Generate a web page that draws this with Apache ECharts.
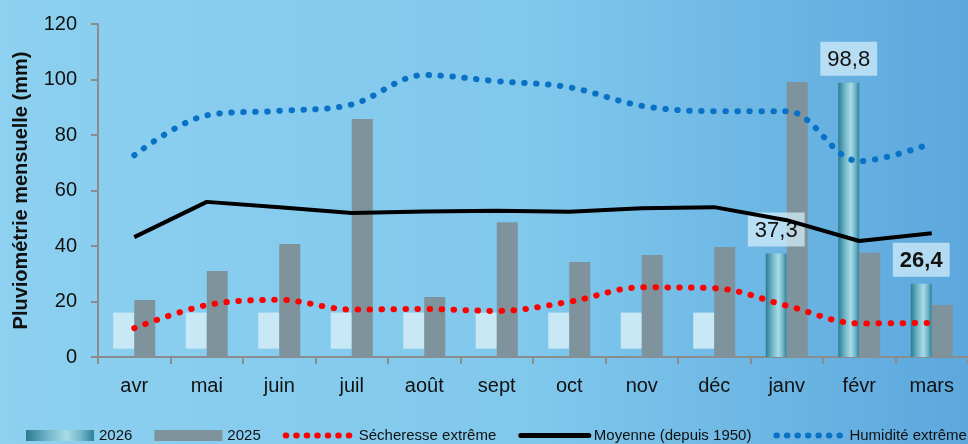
<!DOCTYPE html>
<html>
<head>
<meta charset="utf-8">
<script src="https://cdn.jsdelivr.net/npm/echarts@6/dist/echarts.min.js"></script>
<style>
  html, body { margin: 0; padding: 0; }
  #chart { width: 968px; height: 444px; }
</style>
</head>
<body>
<div id="chart"></div>
<script>
// mois (avril -> mars)
var months = ['avr', 'mai', 'juin', 'juil', 'août', 'sept', 'oct', 'nov', 'déc', 'janv', 'févr', 'mars'];
var yTicks = [0, 20, 40, 60, 80, 100, 120];

var pluie2026 = [null, null, null, null, null, null, null, null, null, 37.3, 98.8, 26.4];
var pluie2025 = [20.5, 31, 40.7, 85.8, 21.6, 48.6, 34.2, 36.8, 39.6, 99.1, 37.6, 18.7];
var moyenne = [43.2, 55.9, 54, 51.9, 52.4, 52.7, 52.3, 53.6, 54, 49.3, 41.8, 44.6];
var secheresse = [10.4, 18.7, 20.6, 17.1, 17.3, 16.6, 19.9, 25.1, 24.8, 18.5, 12.1, 12.3];
var humidite = [72.7, 87.1, 88.7, 91, 101.6, 99.4, 97.2, 90.5, 88.6, 88.6, 70.6, 77];
// cases vides des mois 2026 pas encore passés
var videBas = [3, 3, 3, 3, 3, 3, 3, 3, 3, null, null, null];
var videHaut = [16, 16, 16, 16, 16, 16, 16, 16, 16, null, null, null];
var labelGras = [false, false, false, false, false, false, false, false, false, false, false, true];

var FONT = '"Liberation Sans", Arial, sans-serif';

var chart = echarts.init(document.getElementById('chart'));

var grad2026 = new echarts.graphic.LinearGradient(0, 0, 1, 0, [
  { offset: 0, color: '#2a7b92' },
  { offset: 0.3, color: '#6db3c5' },
  { offset: 0.6, color: '#a9dbe8' },
  { offset: 0.8, color: '#74b9cb' },
  { offset: 1, color: '#2e8099' }
]);

var data2026 = pluie2026.map(function (v, i) {
  if (v == null) return 0;
  return {
    value: v,
    label: {
      show: true,
      fontWeight: labelGras[i] ? 'bold' : 'normal'
    }
  };
});

var noSymbol = { color: 'rgba(0,0,0,0)', borderWidth: 0 };

chart.setOption({
  backgroundColor: new echarts.graphic.LinearGradient(0, 0, 1, 0, [
    { offset: 0, color: '#8dd0f0' },
    { offset: 0.55, color: '#80c8ec' },
    { offset: 1, color: '#5ca7dd' }
  ]),
  animation: false,
  textStyle: { fontFamily: FONT },
  grid: { left: 98, right: 0, top: 24, bottom: 87 },
  legend: {
    left: 26,
    top: 428,
    padding: 0,
    width: 1200,
    itemWidth: 68,
    itemHeight: 11,
    itemGap: 22,
    textStyle: { fontFamily: FONT, fontSize: 15, color: '#111' },
    data: [
      { name: '2026', icon: 'rect' },
      { name: '2025', icon: 'rect' },
      { name: 'Sécheresse extrême', itemStyle: noSymbol,
        lineStyle: { width: 6, type: [0.5, 10], cap: 'round' } },
      { name: 'Moyenne (depuis 1950)', itemStyle: noSymbol,
        lineStyle: { width: 5, cap: 'round' } },
      { name: 'Humidité extrême', itemStyle: noSymbol,
        lineStyle: { width: 6, type: [0.5, 10], cap: 'round' } }
    ]
  },
  xAxis: {
    type: 'category',
    data: months,
    boundaryGap: true,
    axisLine: { lineStyle: { color: '#8c8c8c', width: 2 } },
    axisTick: { show: true, length: 7, lineStyle: { color: '#8c8c8c', width: 2 } },
    axisLabel: { fontFamily: FONT, fontSize: 20, color: '#111', margin: 19 }
  },
  yAxis: {
    type: 'value',
    min: yTicks[0],
    max: yTicks[yTicks.length - 1],
    interval: 20,
    name: 'Pluviométrie mensuelle (mm)',
    nameLocation: 'middle',
    nameGap: 67,
    nameTextStyle: { fontFamily: FONT, fontSize: 20, fontWeight: 'bold', color: '#111' },
    axisLine: { show: true, lineStyle: { color: '#8c8c8c', width: 2 } },
    axisTick: { show: true, length: 7, lineStyle: { color: '#8c8c8c', width: 2 } },
    axisLabel: { fontFamily: FONT, fontSize: 20, color: '#111', margin: 21 },
    splitLine: { show: false }
  },
  series: [
    {
      name: '_bas',
      type: 'bar',
      stack: 'a2026',
      barWidth: 21,
      barGap: '0%',
      silent: true,
      itemStyle: { color: 'rgba(0,0,0,0)' },
      data: videBas.map(function (v) { return v == null ? 0 : v; })
    },
    {
      name: '_vide',
      type: 'bar',
      stack: 'a2026',
      barWidth: 21,
      silent: true,
      itemStyle: { color: '#c8e8f6' },
      data: videHaut.map(function (v, i) { return v == null ? 0 : v - videBas[i]; })
    },
    {
      name: '2026',
      type: 'bar',
      stack: 'a2026',
      barWidth: 21,
      itemStyle: { color: grad2026 },
      label: {
        show: false,
        position: 'top',
        distance: 7,
        fontFamily: FONT,
        fontSize: 22,
        color: '#111',
        backgroundColor: 'rgba(214,238,250,0.72)',
        padding: [7, 7, 5, 7],
        formatter: function (p) { return String(p.value).replace('.', ','); }
      },
      data: data2026
    },
    {
      name: '2025',
      type: 'bar',
      barWidth: 21,
      barGap: '0%',
      itemStyle: { color: '#7f939c' },
      data: pluie2025
    },
    {
      name: 'Sécheresse extrême',
      type: 'line',
      smooth: 0.35,
      symbol: 'none',
      lineStyle: { color: '#ff0000', width: 6, type: [0.5, 11.5], cap: 'round' },
      itemStyle: { color: '#ff0000' },
      data: secheresse
    },
    {
      name: 'Moyenne (depuis 1950)',
      type: 'line',
      symbol: 'none',
      lineStyle: { color: '#000', width: 4 },
      itemStyle: { color: '#000' },
      data: moyenne
    },
    {
      name: 'Humidité extrême',
      type: 'line',
      smooth: 0.35,
      symbol: 'none',
      lineStyle: { color: '#0a72c6', width: 6, type: [0.5, 11.5], cap: 'round' },
      itemStyle: { color: '#0a72c6' },
      data: humidite
    }
  ]
});
</script>
</body>
</html>
